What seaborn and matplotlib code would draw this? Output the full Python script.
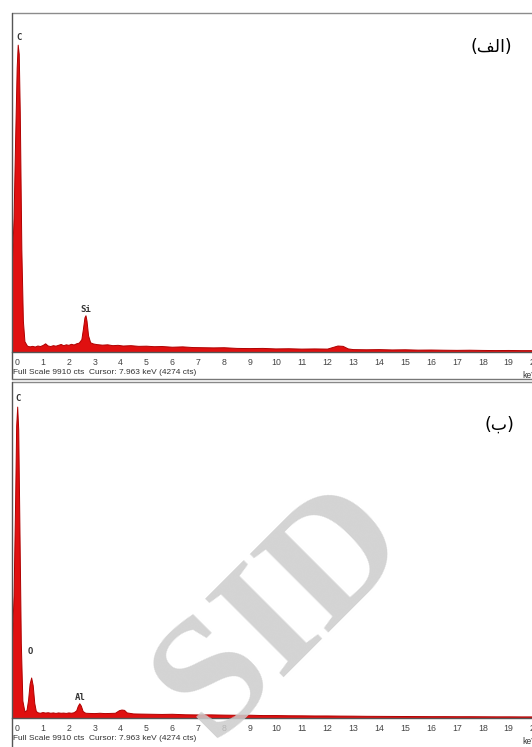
import numpy as np
import pandas as pd
import seaborn as sns
import matplotlib.pyplot as plt
from matplotlib.lines import Line2D
from matplotlib.ticker import MultipleLocator

# EDS spectra (energy in keV, counts)
energy_a = [-0.20, -0.12, -0.06, 0.00, 0.04, 0.08, 0.12, 0.18, 0.24, 0.30,
            0.40, 0.50, 0.60, 0.70, 0.80, 0.90, 1.00, 1.10, 1.20, 1.30,
            1.40, 1.50, 1.60, 1.70, 1.80, 1.90, 2.00, 2.10, 2.20, 2.30,
            2.40, 2.50, 2.56, 2.62, 2.66, 2.70, 2.76, 2.84, 2.95, 3.10,
            3.30, 3.50, 3.70, 3.90, 4.10, 4.40, 4.70, 5.00, 5.30, 5.60,
            6.00, 6.40, 6.80, 7.20, 7.60, 8.00, 8.50, 9.00, 9.50, 10.0,
            10.5, 11.0, 11.5, 12.0, 12.2, 12.4, 12.6, 12.8, 13.0, 13.5,
            14.0, 14.5, 15.0, 15.5, 16.0, 16.5, 17.0, 17.5, 18.0, 18.5,
            19.0, 19.5, 20.0, 20.5, 21.0]
counts_a = [2400, 3900, 6200, 8300, 8970, 8700, 7000, 3000, 900, 300,
            170, 150, 165, 145, 175, 160, 190, 240, 175, 160,
            185, 170, 195, 220, 185, 210, 195, 225, 205, 240,
            260, 360, 660, 1000, 1060, 900, 470, 270, 235, 215,
            200, 210, 185, 195, 175, 185, 165, 170, 155, 160,
            140, 150, 130, 125, 120, 125, 105, 100, 105, 90,
            95, 85, 90, 85, 130, 175, 165, 90, 70, 65,
            70, 60, 65, 55, 58, 52, 48, 52, 46, 42,
            45, 40, 40, 38, 35]

energy_b = [-0.20, -0.12, -0.06, -0.02, 0.02, 0.06, 0.10, 0.16, 0.22, 0.30,
            0.38, 0.44, 0.50, 0.56, 0.62, 0.68, 0.74, 0.82, 0.90, 1.00,
            1.10, 1.20, 1.30, 1.40, 1.50, 1.60, 1.70, 1.80, 1.90, 2.00,
            2.10, 2.20, 2.30, 2.36, 2.42, 2.48, 2.55, 2.65, 2.80, 3.00,
            3.20, 3.40, 3.60, 3.80, 3.95, 4.05, 4.15, 4.25, 4.50, 4.80,
            5.20, 5.60, 6.00, 6.50, 7.00, 7.50, 8.00, 8.50, 9.00, 9.50,
            10.0, 10.5, 11.0, 11.5, 12.0, 12.5, 13.0, 13.5, 14.0, 14.5,
            15.0, 15.5, 16.0, 16.5, 17.0, 17.5, 18.0, 18.5, 19.0, 19.5,
            20.0, 20.5, 21.0]
counts_b = [2000, 3600, 6400, 8600, 9170, 8500, 6000, 2200, 500, 180,
            220, 520, 1000, 1180, 950, 430, 190, 150, 140, 160,
            145, 155, 140, 150, 135, 150, 140, 145, 135, 150,
            140, 155, 210, 340, 420, 350, 190, 140, 135, 130,
            140, 130, 135, 140, 215, 235, 225, 150, 120, 115,
            110, 105, 110, 95, 90, 92, 85, 80, 82, 72,
            72, 66, 64, 60, 60, 56, 54, 50, 48, 46,
            44, 42, 40, 40, 38, 38, 36, 34, 34, 32,
            32, 30, 30]

# peak labels: (text, energy, height of label)
labels_a = [("C", 0.06, 9180), ("Si", 2.66, 1250)]
labels_b = [("C", 0.02, 9410), ("O", 0.52, 1970), ("Al", 2.42, 590)]

tick_values = list(range(0, 21))
full_scale = 9910
footer = "Full Scale 9910 cts  Cursor: 7.963 keV (4274 cts)"

W, H = 532, 747


def fx(px):
    return px / W


def fy(py):
    return 1 - py / H


sns.set_style("white")
plt.rcParams['font.family'] = ['Liberation Sans', 'DejaVu Sans']

fig = plt.figure(figsize=(W / 100, H / 100), dpi=100)
fig.patch.set_facecolor('white')

px_per_kev = 25.87
x_left = -0.2
x_right = 21.0


def draw_panel(top_px, base_px, energy, counts, labels):
    ax = fig.add_axes([fx(12), fy(base_px), (x_right - x_left) * px_per_kev / W,
                       (base_px - top_px) / H])
    ax.set_facecolor('none')
    df = pd.DataFrame({"energy": energy, "counts": counts})
    ax.fill_between(df["energy"], 0, df["counts"], color='#e01010', lw=0)
    sns.lineplot(data=df, x="energy", y="counts", ax=ax, color='#b00000', lw=0.7)
    ax.set_xlim(x_left, x_right)
    ax.set_ylim(0, full_scale)
    ax.set_xlabel("")
    ax.set_ylabel("")
    ax.set_yticks([])
    ax.set_xticks(tick_values)
    ax.xaxis.set_minor_locator(MultipleLocator(0.1))
    for s in ['top', 'right', 'left']:
        ax.spines[s].set_visible(False)
    ax.spines['bottom'].set_color('#555555')
    ax.spines['bottom'].set_linewidth(1.0)
    ax.tick_params(axis='x', which='major', direction='out', length=3.5, width=0.8,
                   color='#555555', labelsize=6.3, pad=1.0, labelcolor='#444444')
    ax.tick_params(axis='x', which='minor', direction='out', length=1.8, width=0.5,
                   color='#777777')
    for txt, e, h in labels:
        ax.text(e, h, txt, ha='center', va='center', fontsize=6.5,
                family='DejaVu Sans Mono', fontweight='bold', color='#333333')
    return ax


ax_a = draw_panel(13, 352, energy_a, counts_a, labels_a)
ax_b = draw_panel(382, 718, energy_b, counts_b, labels_b)

# panel frames
frame = [((12, 532), (13, 13), '#8c8c8c'),
         ((12, 12), (13, 379), '#555555'),
         ((12, 532), (379, 379), '#777777'),
         ((12, 532), (382, 382), '#888888'),
         ((12, 12), (382, 747), '#555555')]
for xs, ys, c in frame:
    fig.add_artist(Line2D([fx(xs[0]), fx(xs[1])], [fy(ys[0]), fy(ys[1])],
                          transform=fig.transFigure, color=c, lw=1.0))

# footers
for base in (352, 718):
    fig.text(fx(13), fy(base + 21), footer, fontsize=6.0, color='#333333',
             ha='left', va='center')
    fig.text(fx(522), fy(base + 23), "keV", fontsize=6.2, color='#333333',
             ha='left', va='center')

# panel tags (Arabic, visual order)
fig.text(fx(491), fy(47), "(\uFED2\uFEDF\uFE8D)", fontsize=12.5, ha='center', va='center',
         family=['DejaVu Sans'], color='black')
fig.text(fx(499), fy(425), "(\uFE8F)", fontsize=12.5, ha='center', va='center',
         family=['DejaVu Sans'], color='black')

# watermark
fig.text(fx(282), fy(612), "SID", fontsize=122, rotation=45, ha='center', va='center',
         family='Liberation Serif', fontweight='bold', color='#cccccc', alpha=0.85,
         zorder=10)

fig.savefig('out.png', dpi=100, facecolor='white')
